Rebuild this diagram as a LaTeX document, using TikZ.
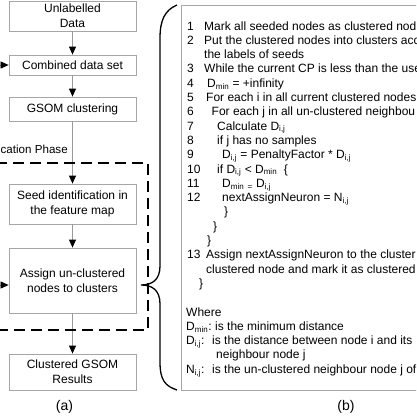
\documentclass[tikz,border=0pt]{standalone}
\usepackage{fontspec}
\setmainfont{Liberation Sans}
\usetikzlibrary{arrows.meta}

\begin{document}
\begin{tikzpicture}[x=1pt,y=-1pt,
	box/.style={draw=gray!70,line width=0.8pt,minimum width=127pt,align=center,inner sep=0pt,font=\fontsize{12}{15}\selectfont},
	flow/.style={draw=gray!80,line width=0.8pt,-{Triangle[black,length=8pt,width=7pt]}},
	txt/.style={anchor=base west,inner sep=0pt,font=\fontsize{12}{14}\selectfont},
	figcap/.style={inner sep=0pt,font=\fontsize{14}{16}\selectfont}]
	\clip (0,0) rectangle (416,416);
	% left: flow chart
	\node[box,minimum height=30pt] (unl) at (72.5,16) {Unlabelled\\Data};
	\node[box,minimum height=20pt] (comb) at (72.5,65) {Combined data set};
	\node[box,minimum height=24pt] (gsom) at (72.5,109) {GSOM clustering};
	\node[box,minimum height=40pt] (seed) at (72.5,204) {Seed identification in\\the feature map};
	\node[box,minimum height=65pt] (asgn) at (72.5,280.5) {Assign un-clustered\\nodes to clusters};
	\node[box,minimum height=36pt] (clus) at (72.5,372) {Clustered GSOM\\Results};
	\draw[flow] (unl) -- (comb);
	\draw[flow] (comb) -- (gsom);
	\draw[flow] (gsom) -- (seed);
	\draw[flow] (seed) -- (asgn);
	\draw[flow] (asgn) -- (clus);
	\coordinate (inA) at (-12,65);
	\coordinate (inB) at (-12,285);
	\draw[flow] (inA) -- (comb.west);
	\draw[flow] (inB) -- (inB -| asgn.west);
	\draw[black,line width=1.8pt,dash pattern=on 11pt off 6pt] (-6,163) rectangle (148,330);
	\node[anchor=base west,inner sep=0pt,font=\fontsize{11.6}{14}\selectfont] (phase) at (0.5,153) {cation Phase};
	\node[figcap] (capa) at (64.5,407) {(a)};
	% brace
	\draw[line width=1.3pt] (177,5) .. controls (165,10) and (160,20) .. (160,38) -- (160,266)
		.. controls (160,280) and (152,285) .. (141,285)
		.. controls (152,285) and (160,290) .. (160,304) -- (160,362)
		.. controls (160,380) and (165,386) .. (177,390);
	% right: algorithm
	\draw[gray!70,line width=0.8pt] (181,5) rectangle (430,390);
	\foreach \n/\y in {1/30,2/44.3,3/72.9,4/87.2,5/101.5,6/115.8,7/130.1,8/144.4,9/158.7,10/173,11/187.3,12/201.6,13/258.8}
		\node[txt] (n\n) at (187,\y) {\n};
	\node[txt] (l1) at (204,30) {Mark all seeded nodes as clustered nod};
	\node[txt] (l2) at (204,44.3) {Put the clustered nodes into clusters acc};
	\node[txt] (l2b) at (204,58.6) {the labels of seeds};
	\node[txt] (l3) at (204,72.9) {While the current CP is less than the use};
	\node[txt] (l4) at (207,87.2) {D\textsubscript{min} = +infinity};
	\node[txt] (l5) at (206,101.5) {For each i in all current clustered nodes};
	\node[txt] (l6) at (211.5,115.8) {For each j in all un-clustered neighbou};
	\node[txt] (l7) at (217,130.1) {Calculate D\textsubscript{i,j}};
	\node[txt] (l8) at (217,144.4) {if j has no samples};
	\node[txt] (l9) at (222,158.7) {D\textsubscript{i,j} = PenaltyFactor * D\textsubscript{i,j}};
	\node[txt] (l10) at (217,173) {if D\textsubscript{i,j} < D\textsubscript{min}\ \ \{};
	\node[txt] (l11) at (222,187.3) {D\textsubscript{min} \textsubscript{=} D\textsubscript{i,j}};
	\node[txt] (l12) at (222,201.6) {nextAssignNeuron = N\textsubscript{i,j}};
	\node[txt] (c1) at (224,215.9) {\}};
	\node[txt] (c2) at (213,230.2) {\}};
	\node[txt] (c3) at (207,244.5) {\}};
	\node[txt] (l13) at (206,258.8) {Assign nextAssignNeuron to the cluster};
	\node[txt] (l13b) at (206,273.1) {clustered node and mark it as clustered};
	\node[txt] (c4) at (199,287.4) {\}};
	\node[txt] (wh) at (186,316) {Where};
	\node[txt] (k1) at (186,330.3) {D\textsubscript{min}:};
	\node[txt] (d1) at (215,330.3) {is the minimum distance};
	\node[txt] (k2) at (186,344.6) {D\textsubscript{i,j}:};
	\node[txt] (d2) at (212,344.6) {is the distance between node i and its};
	\node[txt] (d2b) at (216,358.9) {neighbour node j};
	\node[txt] (k3) at (186,373.2) {N\textsubscript{i,j}:};
	\node[txt] (d3) at (212,373.2) {is the un-clustered neighbour node j of};
	\node[figcap] (capb) at (346,407) {(b)};
\end{tikzpicture}
\end{document}
